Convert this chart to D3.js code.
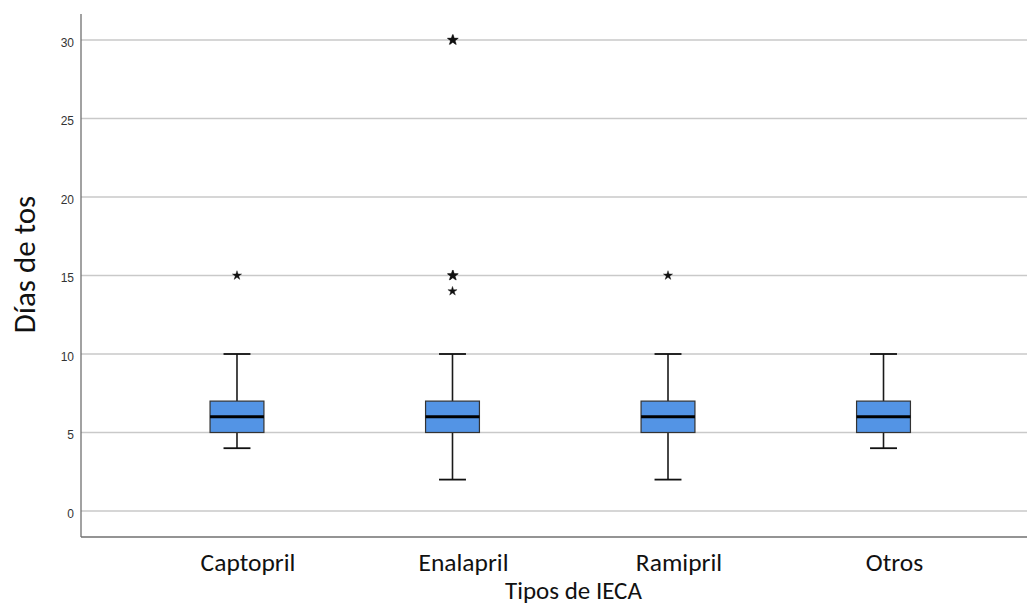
<!DOCTYPE html>
<html>
<head>
<meta charset="utf-8">
<script src="https://cdn.jsdelivr.net/npm/d3@7"></script>
<style>
  body { margin: 0; background: #fff; }
  svg { display: block; }
</style>
</head>
<body>
<svg id="chart" width="1027" height="607"></svg>
<script>
// Boxplot summaries per IECA type
const categories = ["Captopril", "Enalapril", "Ramipril", "Otros"];
const whiskerLow  = [4, 2, 2, 4];
const q1          = [5, 5, 5, 5];
const medians     = [6, 6, 6, 6];
const q3          = [7, 7, 7, 7];
const whiskerHigh = [10, 10, 10, 10];
// Extreme values: [category index, value, number of cases]
const extremes = [
  [0, 15, 1],
  [1, 30, 2],
  [1, 15, 2],
  [1, 14, 1],
  [2, 15, 1]
];
const yTicks = [0, 5, 10, 15, 20, 25, 30];

const svg = d3.select("#chart");
const plotLeft = 81, plotRight = 1027, plotTop = 14, plotBottom = 537;
const labelFont = "Carlito, Lato, sans-serif";

const y = d3.scaleLinear().domain([0, 30]).range([511, 40]);
const x = d3.scaleBand().domain(categories).range([102.3, 1018.2])
  .paddingInner(0.75).paddingOuter(0.5);

// Horizontal gridlines
svg.append("g").selectAll("line").data(yTicks).join("line")
  .attr("x1", plotLeft).attr("x2", plotRight)
  .attr("y1", d => y(d)).attr("y2", d => y(d))
  .attr("stroke", "#c9c9c9").attr("stroke-width", 1.3);

// Y axis tick labels
const yAxis = d3.axisLeft(y).tickValues(yTicks).tickSize(0).tickPadding(7);
const gy = svg.append("g").attr("transform", `translate(${plotLeft},0)`).call(yAxis);
gy.select(".domain").remove();
gy.selectAll("text").attr("font-family", "Liberation Sans, Arial, sans-serif")
  .attr("font-size", 12).attr("fill", "#333").attr("dy", "0.5em");

// Axis frame lines
svg.append("line").attr("x1", plotLeft).attr("x2", plotLeft).attr("y1", plotTop).attr("y2", plotBottom)
  .attr("stroke", "#707070").attr("stroke-width", 1.3);
svg.append("line").attr("x1", plotLeft).attr("x2", plotRight).attr("y1", plotBottom).attr("y2", plotBottom)
  .attr("stroke", "#707070").attr("stroke-width", 1.3);

// X axis labels
const xAxis = d3.axisBottom(x).tickSize(0).tickPadding(16);
const gx = svg.append("g").attr("transform", `translate(0,${plotBottom})`).call(xAxis);
gx.select(".domain").remove();
gx.selectAll("text").attr("font-family", labelFont)
  .attr("font-size", 25.5).attr("fill", "#111").attr("dx", 11);

// Axis titles
svg.append("text").attr("x", 505).attr("y", 599).attr("text-anchor", "start")
  .attr("font-family", labelFont).attr("font-size", 25).attr("fill", "#111")
  .text("Tipos de IECA");
svg.append("text").attr("transform", `translate(35,${y(15.7)}) rotate(-90)`)
  .attr("text-anchor", "middle")
  .attr("font-family", labelFont).attr("font-size", 31).attr("fill", "#111")
  .text("Días de tos");

// Boxes
const bw = x.bandwidth();
const g = svg.append("g");
categories.forEach((c, i) => {
  const cx = x(c) + bw / 2;
  const cap = bw / 2;
  // whiskers
  g.append("line").attr("x1", cx).attr("x2", cx).attr("y1", y(whiskerHigh[i])).attr("y2", y(q3[i]))
    .attr("stroke", "#1a1a1a").attr("stroke-width", 1.6);
  g.append("line").attr("x1", cx).attr("x2", cx).attr("y1", y(q1[i])).attr("y2", y(whiskerLow[i]))
    .attr("stroke", "#1a1a1a").attr("stroke-width", 1.6);
  [whiskerHigh[i], whiskerLow[i]].forEach(v => {
    g.append("line").attr("x1", cx - cap / 2).attr("x2", cx + cap / 2)
      .attr("y1", y(v)).attr("y2", y(v)).attr("stroke", "#111").attr("stroke-width", 1.8);
  });
  // box
  g.append("rect").attr("x", x(c)).attr("y", y(q3[i]))
    .attr("width", bw).attr("height", y(q1[i]) - y(q3[i]))
    .attr("fill", "#5394e5").attr("stroke", "#333").attr("stroke-width", 1.2);
  // median
  g.append("line").attr("x1", x(c)).attr("x2", x(c) + bw)
    .attr("y1", y(medians[i])).attr("y2", y(medians[i]))
    .attr("stroke", "#000").attr("stroke-width", 3);
});

// Extreme value stars
const star = d3.symbol().type(d3.symbolStar);
extremes.forEach(([ci, v, n]) => {
  const cx = x(categories[ci]) + bw / 2;
  for (let k = 0; k < n; k++) {
    g.append("path").attr("d", star.size(n > 1 ? 34 : 26)())
      .attr("transform", `translate(${cx + k * 0.6},${y(v)})`)
      .attr("fill", "#111").attr("stroke", "#111").attr("stroke-width", 0.4);
  }
});
</script>
</body>
</html>
